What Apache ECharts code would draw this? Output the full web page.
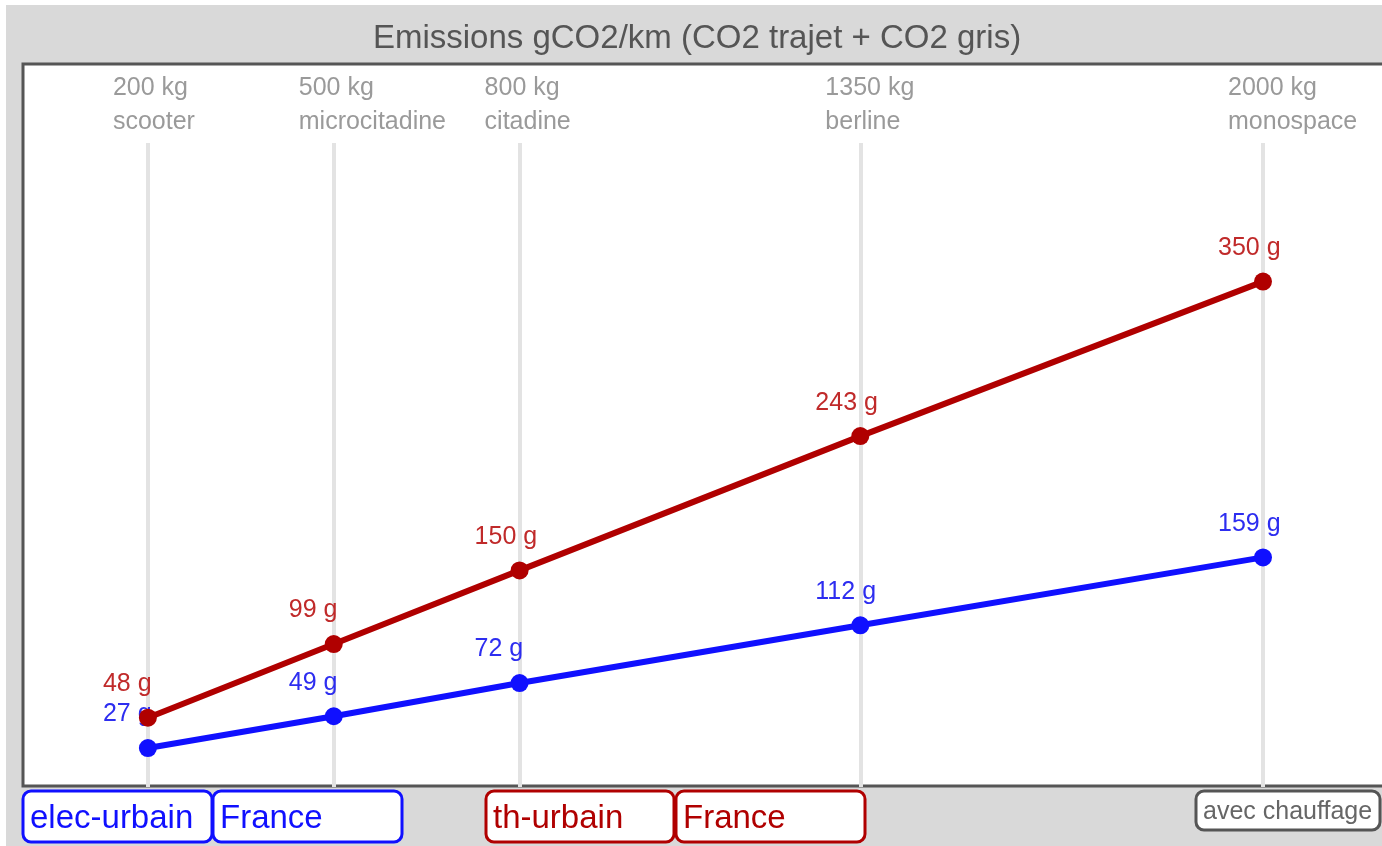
<!DOCTYPE html>
<html>
<head>
<meta charset="utf-8">
<script src="https://cdn.jsdelivr.net/npm/echarts@6/dist/echarts.min.js"></script>
<style>
  html, body { margin: 0; padding: 0; background: #fff; }
  #chart { width: 1382px; height: 846px; }
</style>
</head>
<body>
<div id="chart"></div>
<script>
  // masse des véhicules (kg) et type
  const weights = [200, 500, 800, 1350, 2000];
  const vehicles = ['scooter', 'microcitadine', 'citadine', 'berline', 'monospace'];
  // gCO2/km
  const thermique = [48, 99, 150, 243, 350];
  const electrique = [27, 49, 72, 112, 159];

  const RED = '#b00000';
  const BLUE = '#1010ff';

  const chart = echarts.init(document.getElementById('chart'));

  function button(x, w, h, text, color, textColor, size) {
    return {
      type: 'group',
      x: x,
      y: 791,
      children: [
        {
          type: 'rect',
          shape: { x: 0, y: 0, width: w, height: h, r: 8 },
          style: { fill: '#fff', stroke: color, lineWidth: 3 }
        },
        {
          type: 'text',
          x: 7,
          y: h / 2 + 2,
          style: {
            text: text,
            fill: textColor,
            font: size + 'px "Liberation Sans", Arial, sans-serif',
            verticalAlign: 'middle'
          }
        }
      ]
    };
  }

  const option = {
    backgroundColor: '#fff',
    textStyle: { fontFamily: '"Liberation Sans", Arial, sans-serif' },
    title: {
      text: 'Emissions gCO2/km (CO2 trajet + CO2 gris)',
      left: 692,
      textAlign: 'center',
      top: 17,
      textStyle: { fontSize: 33, fontWeight: 'normal', color: '#555' }
    },
    graphic: [
      {
        type: 'rect', z: -10, silent: true,
        shape: { x: 6, y: 5, width: 1376, height: 841 },
        style: { fill: '#d9d9d9' }
      },
      {
        type: 'rect', z: -9, silent: true,
        shape: { x: 23, y: 64, width: 1370, height: 722 },
        style: { fill: '#fff', stroke: '#555', lineWidth: 3 }
      },
      button(23, 189, 51, 'elec-urbain', BLUE, BLUE, 33),
      button(213, 189, 51, 'France', BLUE, BLUE, 33),
      button(486, 188, 51, 'th-urbain', RED, RED, 33),
      button(676, 189, 51, 'France', RED, RED, 33),
      button(1196, 184, 39, 'avec chauffage', '#555', '#666', 25)
    ],
    grid: { left: 24, right: 119, top: 143, bottom: 59 },
    xAxis: {
      type: 'value',
      position: 'top',
      min: 0,
      max: 2000,
      axisLine: { show: false },
      axisTick: { show: false, customValues: weights },
      splitLine: { show: true, lineStyle: { color: '#e3e3e3', width: 4 } },
      axisLabel: {
        customValues: weights,
        align: 'left',
        margin: 4,
        padding: [0, 0, 0, -35],
        fontSize: 25,
        lineHeight: 34,
        color: '#9a9a9a',
        formatter: function (v) {
          const i = weights.indexOf(v);
          return v + ' kg\n' + vehicles[i];
        }
      }
    },
    yAxis: {
      type: 'value',
      min: 0,
      max: 446,
      show: false,
      splitLine: { show: false }
    },
    series: [
      {
        name: 'elec-urbain France',
        type: 'line',
        z: 2,
        data: weights.map((w, i) => [w, electrique[i]]),
        symbol: 'circle',
        symbolSize: 18,
        lineStyle: { color: BLUE, width: 6 },
        itemStyle: { color: BLUE },
        label: {
          show: true,
          position: 'top',
          distance: 12,
          align: 'left',
          offset: [-45, 0],
          fontSize: 25,
          color: '#2d2df0',
          formatter: p => p.value[1] + ' g'
        }
      },
      {
        name: 'th-urbain France',
        type: 'line',
        z: 3,
        zlevel: 1, // au-dessus des étiquettes bleues
        data: weights.map((w, i) => [w, thermique[i]]),
        symbol: 'circle',
        symbolSize: 18,
        lineStyle: { color: RED, width: 6 },
        itemStyle: { color: RED },
        label: {
          show: true,
          position: 'top',
          distance: 12,
          align: 'left',
          offset: [-45, 0],
          fontSize: 25,
          color: '#c02a2a',
          formatter: p => p.value[1] + ' g'
        }
      }
    ]
  };

  chart.setOption(option);
</script>
</body>
</html>
